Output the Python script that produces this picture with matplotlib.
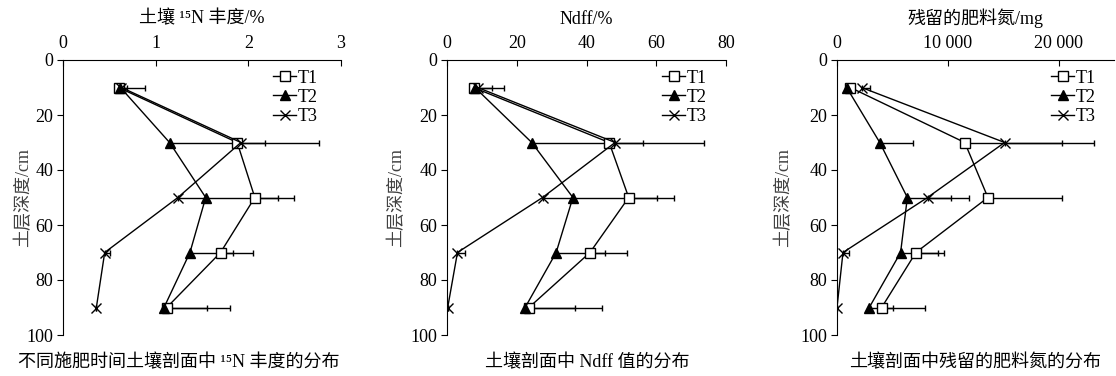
import matplotlib
matplotlib.use('Agg')
import matplotlib.pyplot as plt
from matplotlib.ticker import FuncFormatter

plt.rcParams['font.family'] = ['Liberation Serif', 'Noto Sans CJK SC', 'DejaVu Serif']
plt.rcParams['font.size'] = 13

# soil depth (cm)
depth = [10, 30, 50, 70, 90]
series = ['T1', 'T2', 'T3']

# 15N abundance (%) and one-sided errors
abund_t1 = [0.60, 1.88, 2.07, 1.70, 1.12]
abund_t2 = [0.62, 1.15, 1.54, 1.37, 1.09]
abund_t3 = [0.63, 1.92, 1.24, 0.45, 0.36]
abund_e1 = [0.09, 0.0, 0.42, 0.35, 0.68]
abund_e2 = [0.0, 1.03, 0.0, 0.46, 0.46]
abund_e3 = [0.26, 0.84, 1.08, 0.06, 0.0]

# Ndff (%)
ndff_t1 = [7.6, 46.5, 52.1, 41.0, 23.5]
ndff_t2 = [8.0, 24.3, 36.1, 31.3, 22.4]
ndff_t3 = [8.8, 48.2, 27.4, 3.0, 0.2]
ndff_e1 = [5.2, 0.0, 12.9, 10.6, 20.9]
ndff_e2 = [0.0, 31.8, 0.0, 13.9, 14.3]
ndff_e3 = [7.6, 25.4, 32.8, 2.2, 0.0]

# residual fertilizer N (mg)
resid_t1 = [1200, 11530, 13620, 7120, 4030]
resid_t2 = [870, 3860, 6350, 5740, 2910]
resid_t3 = [2220, 15130, 8170, 540, 0]
resid_e1 = [0, 8740, 6680, 2550, 3890]
resid_e2 = [0, 3020, 3980, 3390, 2110]
resid_e3 = [770, 8070, 3720, 510, 0]

panels = [
    dict(vals=[abund_t1, abund_t2, abund_t3], errs=[abund_e1, abund_e2, abund_e3],
         xlim=(0, 3), xticks=[0, 1, 2, 3], xlabel='土壤 ¹⁵N 丰度/%',
         caption='不同施肥时间土壤剖面中 ¹⁵N 丰度的分布', cap_x=179,
         rect=[63, 278], ylab_x=-0.11, leg_x=0.755),
    dict(vals=[ndff_t1, ndff_t2, ndff_t3], errs=[ndff_e1, ndff_e2, ndff_e3],
         xlim=(0, 80), xticks=[0, 20, 40, 60, 80], xlabel='Ndff/%',
         caption='土壤剖面中 Ndff 值的分布', cap_x=587,
         rect=[447, 279], ylab_x=-0.15, leg_x=0.77),
    dict(vals=[resid_t1, resid_t2, resid_t3], errs=[resid_e1, resid_e2, resid_e3],
         xlim=(0, 25000), xticks=[0, 10000, 20000], xlabel='残留的肥料氮/mg',
         caption='土壤剖面中残留的肥料氮的分布', cap_x=975,
         rect=[837, 277], ylab_x=-0.162, leg_x=0.772),
]

markers = [dict(marker='s', mfc='white', mec='black', ms=6.5),
           dict(marker='^', mfc='black', mec='black', ms=7),
           dict(marker='x', mfc='black', mec='black', ms=7, mew=1)]

W, H = 1116, 376
fig = plt.figure(figsize=(W / 100, H / 100), dpi=100)

for p in panels:
    left, width = p['rect']
    ax = fig.add_axes([left / W, (H - 335) / H, width / W, 275 / H])
    for vals, err, name, mk in zip(p['vals'], p['errs'], series, markers):
        ax.errorbar(vals, depth, xerr=[[0] * len(err), err], color='black', lw=1,
                    elinewidth=1, capsize=2.5, capthick=1, label=name, **mk)
    ax.set_xlim(*p['xlim'])
    ax.set_ylim(100, 0)
    ax.set_xticks(p['xticks'])
    ax.set_yticks([0, 20, 40, 60, 80, 100])
    ax.xaxis.set_major_formatter(FuncFormatter(lambda v, pos: f'{int(v):,}'.replace(',', ' ')))
    ax.xaxis.tick_top()
    ax.xaxis.set_label_position('top')
    ax.tick_params(axis='x', direction='in', length=4, pad=6, labelsize=13)
    ax.tick_params(axis='y', direction='out', length=4, pad=3, labelsize=13)
    ax.spines['right'].set_visible(False)
    ax.spines['bottom'].set_visible(False)
    ax.set_xlabel(p['xlabel'], fontsize=13, labelpad=8)
    ax.set_ylabel('土层深度/cm', fontsize=13, color='#404040')
    ax.yaxis.set_label_coords(p['ylab_x'], 0.5)
    handles, labels = ax.get_legend_handles_labels()
    handles = [h[0] for h in handles]
    ax.legend(handles, labels, loc='upper left', bbox_to_anchor=(p['leg_x'], 0.965),
              frameon=False, borderaxespad=0, borderpad=0, handlelength=1.3,
              handletextpad=0.1, labelspacing=0.12, fontsize=13)
    fig.text(p['cap_x'] / W, 1 - 363 / H, p['caption'], ha='center', va='center', fontsize=13)

fig.savefig('out.png', dpi=100)
